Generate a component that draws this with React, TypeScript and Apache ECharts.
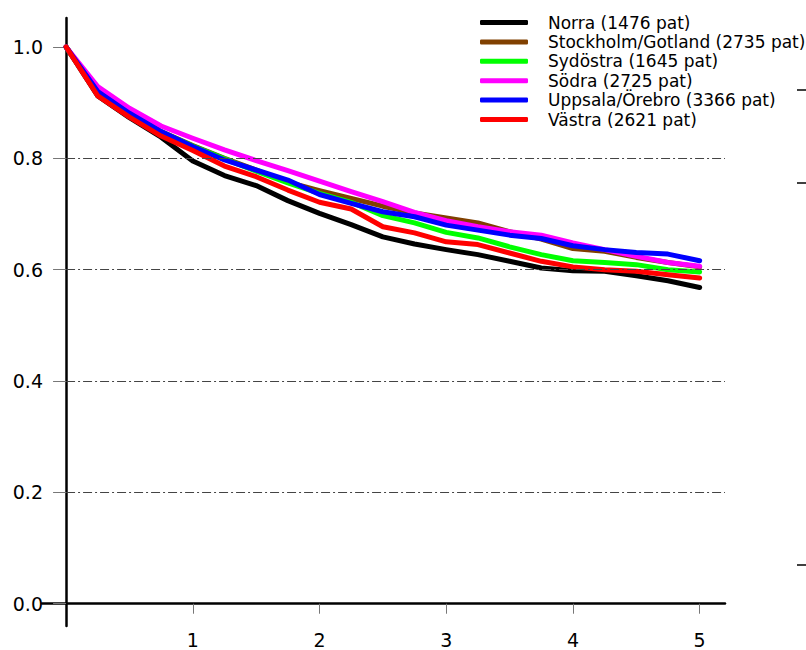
import React, { useEffect, useRef } from "react";
import * as echarts from "echarts";

const years = [0, 0.25, 0.5, 0.75, 1, 1.25, 1.5, 1.75, 2, 2.25, 2.5, 2.75, 3, 3.25, 3.5, 3.75, 4, 4.25, 4.5, 4.75, 5];

const norra = [1.0, 0.912, 0.873, 0.838, 0.795, 0.769, 0.751, 0.724, 0.701, 0.681, 0.659, 0.646, 0.636, 0.627, 0.615, 0.603, 0.598, 0.597, 0.589, 0.580, 0.568];
const stockholm = [1.0, 0.918, 0.880, 0.848, 0.823, 0.800, 0.779, 0.757, 0.742, 0.728, 0.714, 0.702, 0.693, 0.684, 0.668, 0.655, 0.638, 0.633, 0.622, 0.613, 0.605];
const sydostra = [1.0, 0.918, 0.879, 0.847, 0.822, 0.799, 0.777, 0.756, 0.737, 0.721, 0.697, 0.684, 0.667, 0.657, 0.641, 0.627, 0.616, 0.613, 0.609, 0.600, 0.596];
const sodra = [1.0, 0.929, 0.890, 0.858, 0.836, 0.815, 0.796, 0.778, 0.759, 0.740, 0.722, 0.703, 0.688, 0.677, 0.668, 0.662, 0.648, 0.636, 0.624, 0.613, 0.606];
const uppsala = [1.0, 0.920, 0.881, 0.848, 0.821, 0.797, 0.779, 0.761, 0.735, 0.719, 0.704, 0.695, 0.680, 0.671, 0.662, 0.656, 0.643, 0.636, 0.631, 0.628, 0.616];
const vastra = [1.0, 0.912, 0.874, 0.840, 0.814, 0.786, 0.767, 0.743, 0.721, 0.709, 0.677, 0.666, 0.650, 0.645, 0.630, 0.615, 0.605, 0.600, 0.597, 0.591, 0.585];

const seriesNames = [
  "Norra (1476 pat)",
  "Stockholm/Gotland (2735 pat)",
  "Sydöstra (1645 pat)",
  "Södra (2725 pat)",
  "Uppsala/Örebro (3366 pat)",
  "Västra (2621 pat)",
];
const seriesValues = [norra, stockholm, sydostra, sodra, uppsala, vastra];
const seriesColors = ["#000000", "#804000", "#00ff00", "#ff00ff", "#0000ff", "#ff0000"];

const yTickValues = [0, 0.2, 0.4, 0.6, 0.8, 1.0];
const gridValues = [0.2, 0.4, 0.6, 0.8];
const xTickValues = [1, 2, 3, 4, 5];

const FONT = "DejaVu Sans";

export default function App() {
  const ref = useRef<HTMLDivElement>(null);
  useEffect(() => {
    if (!ref.current) return;
    const chart = echarts.init(ref.current, null, { renderer: "svg" });
    const dataSeries = seriesNames.map((name, i) => ({
      name,
      type: "line",
      data: years.map((t, j) => [t, seriesValues[i][j]]),
      showSymbol: false,
      symbol: "none",
      z: 3,
      lineStyle: { color: seriesColors[i], width: 5, cap: "round", join: "round" },
      itemStyle: { color: seriesColors[i] },
    }));
    chart.setOption({
      animation: false,
      backgroundColor: "#ffffff",
      grid: { left: 42, right: 81, top: 18, bottom: 24, containLabel: false, outerBoundsMode: "none" },
      legend: {
        data: seriesNames,
        orient: "vertical",
        left: 480,
        top: 14,
        padding: 0,
        itemGap: 2.4,
        itemWidth: 48,
        itemHeight: 5,
        icon: "roundRect",
        textStyle: { fontFamily: FONT, fontSize: 17, color: "#000", lineHeight: 17, padding: [0, 0, 0, 15] },
        selectedMode: false,
      },
      xAxis: {
        type: "value",
        min: -0.19,
        max: 5.2,
        axisLine: { onZero: true, lineStyle: { color: "#000", width: 2.5 } },
        axisTick: { show: true, customValues: xTickValues, length: 10, lineStyle: { color: "#777", width: 1 } },
        axisLabel: { customValues: xTickValues, margin: 6, fontFamily: FONT, fontSize: 19, lineHeight: 16, color: "#000", formatter: (v: number) => String(v) },
        splitLine: { show: false },
      },
      yAxis: {
        type: "value",
        min: -0.04,
        max: 1.052,
        axisLine: { show: true, onZero: true, lineStyle: { color: "#000", width: 2.5 } },
        axisTick: { show: true, customValues: yTickValues, length: 13, lineStyle: { color: "#777", width: 1 } },
        axisLabel: { customValues: yTickValues, margin: -1, fontFamily: FONT, fontSize: 19, color: "#000", formatter: (v: number) => v.toFixed(1) },
        splitLine: { show: false },
      },
      series: [
        {
          type: "line",
          data: [],
          z: 1,
          silent: true,
          markLine: {
            silent: true,
            symbol: "none",
            label: { show: false },
            lineStyle: { color: "#444", width: 1, type: [9, 3, 2, 3] },
            data: gridValues.map((v) => [{ coord: [0, v] }, { coord: [5.2, v] }]),
          },
        },
        ...dataSeries,
      ],
      graphic: [
        { type: "line", shape: { x1: 797, y1: 90, x2: 806, y2: 90 }, style: { stroke: "#000", lineWidth: 1.5 } },
        { type: "line", shape: { x1: 797, y1: 183, x2: 806, y2: 183 }, style: { stroke: "#000", lineWidth: 1.5 } },
        { type: "line", shape: { x1: 797, y1: 565, x2: 806, y2: 565 }, style: { stroke: "#000", lineWidth: 1.5 } },
      ],
    });
    return () => chart.dispose();
  }, []);
  return <div ref={ref} style={{ position: "fixed", left: 0, top: 0, width: 806, height: 650 }} />;
}
